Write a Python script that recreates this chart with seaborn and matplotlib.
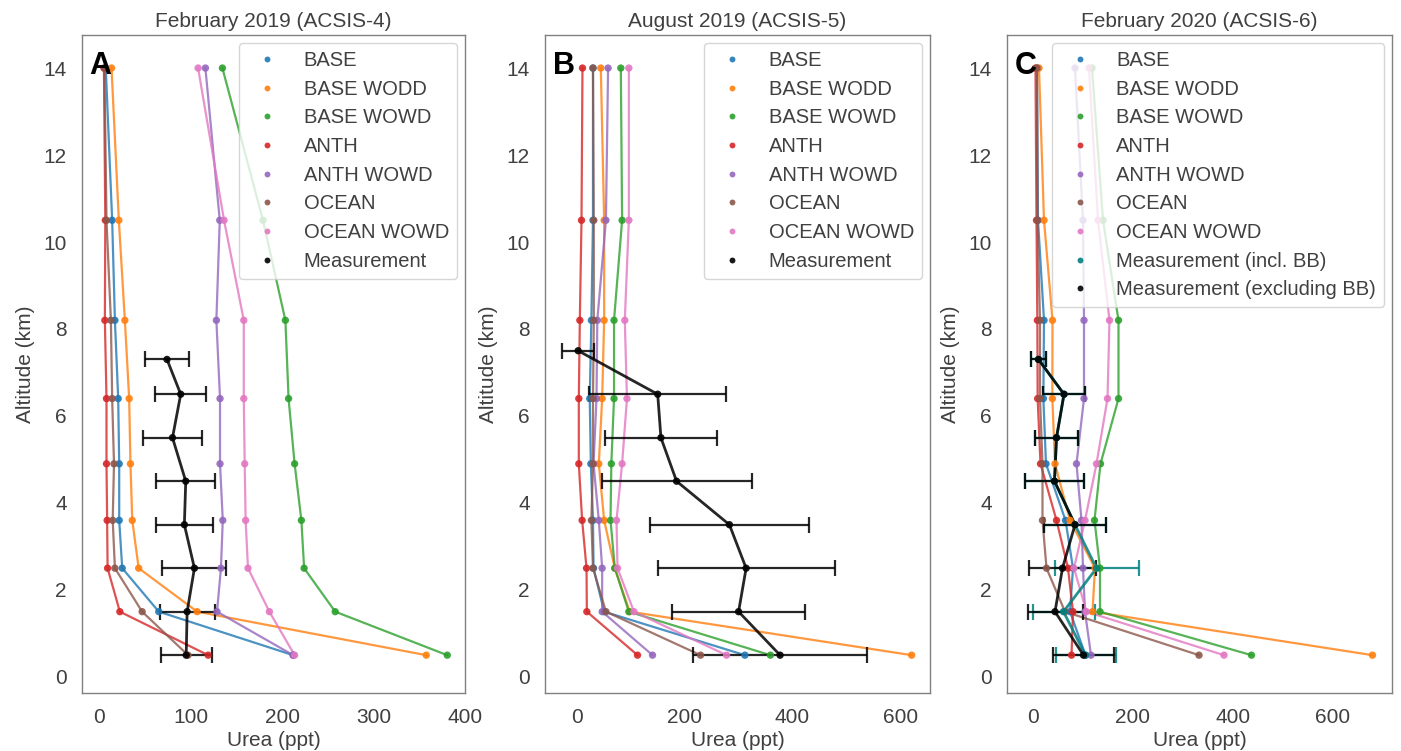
import numpy as np
import pandas as pd
import matplotlib
matplotlib.use("Agg")
import matplotlib.pyplot as plt
import seaborn as sns

# model altitude levels (km), shared by all three campaigns
altitude = [0.5, 1.5, 2.5, 3.6, 4.9, 6.4, 8.2, 10.5, 14]
runs = ["BASE", "BASE WODD", "BASE WOWD", "ANTH", "ANTH WOWD", "OCEAN", "OCEAN WOWD"]
run_colors = ["#1f77b4", "#ff7f0e", "#2ca02c", "#d62728", "#9467bd", "#8c564b", "#e377c2"]

# February 2019 (ACSIS-4) model urea (ppt)
a_base = [212, 65, 25, 21.7, 21.7, 20.6, 17, 14, 7]
a_base_wodd = [357.6, 107, 43, 36, 34, 32.6, 27.9, 21.3, 13.3]
a_base_wowd = [380.6, 258, 224, 221, 213.6, 207, 203.5, 179, 134.6]
a_anth = [119, 22.4, 9, 8.5, 7.8, 7.8, 6, 6.5, 5]
a_anth_wowd = [212, 128.7, 133, 135, 132, 132, 128, 131.7, 116]
a_ocean = [97, 46.8, 17, 14.6, 16, 14, 12.6, 7.8, 5.5]
a_ocean_wowd = [213.6, 186, 162.6, 160, 159, 158, 158, 136.4, 108]

# August 2019 (ACSIS-5)
b_base = [311.7, 50.7, 31, 30, 26, 24, 27, 30, 30]
b_base_wodd = [621, 98, 70.5, 50.7, 40.8, 47, 50.7, 50.7, 44.5]
b_base_wowd = [359, 96.5, 70.5, 62.5, 64, 69, 69, 84, 81.6]
b_anth = [112.6, 18.6, 18, 9.9, 3.7, 3.7, 5.6, 8.7, 10.5]
b_anth_wowd = [140.4, 47, 47, 40.8, 31, 36.5, 38, 54, 58]
b_ocean = [229.5, 54, 30, 27, 30, 30, 31.5, 31.5, 30]
b_ocean_wowd = [277.7, 106, 75.5, 73.6, 84, 93, 89, 96.5, 96.5]

# February 2020 (ACSIS-6)
c_base = [105, 74, 80, 65, 26, 20.7, 22, 10, 8]
c_base_wodd = [679, 119, 124, 74, 44, 38.7, 39, 22, 12]
c_base_wowd = [437, 134, 134, 123, 135, 171, 171, 140, 118]
c_anth = [77, 80, 70, 47, 15, 9.3, 8.7, 7, 5]
c_anth_wowd = [116, 104, 100, 97, 87, 102, 102, 100, 84]
c_ocean = [332, 64, 27, 19, 19, 14, 14, 9, 8]
c_ocean_wowd = [382, 107, 82, 104, 127, 149, 153, 130, 112]

# measurements (mean and error, ppt)
meas_alt = [0.5, 1.5, 2.5, 3.5, 4.5, 5.5, 6.5, 7.3]
meas_alt_b = [0.5, 1.5, 2.5, 3.5, 4.5, 5.5, 6.5, 7.5]
a_meas = [95, 96, 104, 93, 94.5, 80, 89, 74]
a_meas_err = [28, 30, 35, 31, 32, 32, 28, 24]
b_meas = [377, 300, 314, 283, 185, 156, 150, 2.5]
b_meas_err = [161, 124, 164, 147, 139, 104, 127, 30]
c_meas_bb = [105, 61, 127, 84, 43, 47, 62, 11]
c_meas_bb_err = [60, 62, 84, 62, 59, 43, 42, 15]
c_meas = [101, 44, 59, 84, 43, 47, 62, 11]
c_meas_err = [61, 55, 67, 62, 59, 43, 42, 15]

titles = ["February 2019 (ACSIS-4)", "August 2019 (ACSIS-5)", "February 2020 (ACSIS-6)"]
letters = ["A", "B", "C"]
xlims = [(-19, 400), (-59, 655), (-52, 718)]
xticks = [[0, 100, 200, 300, 400], [0, 200, 400, 600], [0, 200, 400, 600]]

sns.set_theme(style="white")
plt.rcParams["font.family"] = ["Liberation Sans", "DejaVu Sans"]
plt.rcParams["axes.edgecolor"] = "0.5"
plt.rcParams["text.color"] = "0.25"
plt.rcParams["axes.labelcolor"] = "0.25"
plt.rcParams["xtick.color"] = "0.25"
plt.rcParams["ytick.color"] = "0.25"


def model_frame(values):
    rows = []
    for run, vals in zip(runs, values):
        for alt, v in zip(altitude, vals):
            rows.append({"run": run, "alt": alt, "urea": v})
    return pd.DataFrame(rows)


panels = [
    dict(models=[a_base, a_base_wodd, a_base_wowd, a_anth, a_anth_wowd, a_ocean, a_ocean_wowd],
         meas=[("Measurement", "black", meas_alt, a_meas, a_meas_err)]),
    dict(models=[b_base, b_base_wodd, b_base_wowd, b_anth, b_anth_wowd, b_ocean, b_ocean_wowd],
         meas=[("Measurement", "black", meas_alt_b, b_meas, b_meas_err)]),
    dict(models=[c_base, c_base_wodd, c_base_wowd, c_anth, c_anth_wowd, c_ocean, c_ocean_wowd],
         meas=[("Measurement (incl. BB)", "teal", meas_alt, c_meas_bb, c_meas_bb_err),
               ("Measurement (excluding BB)", "black", meas_alt, c_meas, c_meas_err)]),
]

fig = plt.figure(figsize=(14.01, 7.51), dpi=100)
lefts = [82 / 1401, 545 / 1401, 1007 / 1401]
widths = [383 / 1401, 385 / 1401, 385 / 1401]

for i, p in enumerate(panels):
    ax = fig.add_axes([lefts[i], 58 / 751, widths[i], 658 / 751])
    df = model_frame(p["models"])
    palette = dict(zip(runs, run_colors))

    sns.lineplot(data=df, x="urea", y="alt", hue="run", palette=palette, orient="y",
                 estimator=None, errorbar=None, legend=False, linewidth=1.6, alpha=0.8, ax=ax)

    # measurement profiles with horizontal error bars
    meas_rows = []
    for label, color, alts, vals, errs in p["meas"]:
        ax.errorbar(vals, alts, xerr=errs, fmt="none", ecolor=color, elinewidth=1.6,
                    capsize=6, capthick=1.6, alpha=0.85, zorder=3)
        mdf = pd.DataFrame({"alt": alts, "urea": vals})
        sns.lineplot(data=mdf, x="urea", y="alt", orient="y", estimator=None, errorbar=None,
                     color=color, linewidth=2.0, alpha=0.85, ax=ax, zorder=4)
        for a, v in zip(alts, vals):
            meas_rows.append({"run": label, "alt": a, "urea": v})
        palette[label] = color

    sdf = pd.concat([df, pd.DataFrame(meas_rows)], ignore_index=True)
    hue_order = runs + [m[0] for m in p["meas"]]
    sns.scatterplot(data=sdf, x="urea", y="alt", hue="run", hue_order=hue_order,
                    palette=palette, s=28, linewidth=0, alpha=0.9, ax=ax, zorder=5)

    handles, labels = ax.get_legend_handles_labels()
    ax.legend(handles, labels, loc="upper right", fontsize=14.5, labelspacing=0.48,
              handletextpad=0.8, borderaxespad=0.4, markerscale=0.8, framealpha=0.8)

    ax.set_xlim(*xlims[i])
    ax.set_ylim(-0.37, 14.76)
    ax.set_xticks(xticks[i])
    ax.set_yticks([0, 2, 4, 6, 8, 10, 12, 14])
    ax.tick_params(labelsize=15, pad=5)
    ax.set_xlabel("Urea (ppt)", fontsize=15, labelpad=3)
    ax.set_ylabel("Altitude (km)", fontsize=15, labelpad=6)
    ax.set_title(titles[i], fontsize=15, pad=6)
    ax.text(0.02, 0.975, letters[i], transform=ax.transAxes, ha="left", va="top",
            fontsize=22, fontweight="bold", color="black", zorder=10)
    for s in ax.spines.values():
        s.set_linewidth(1.0)

fig.savefig("out.png", dpi=100)
